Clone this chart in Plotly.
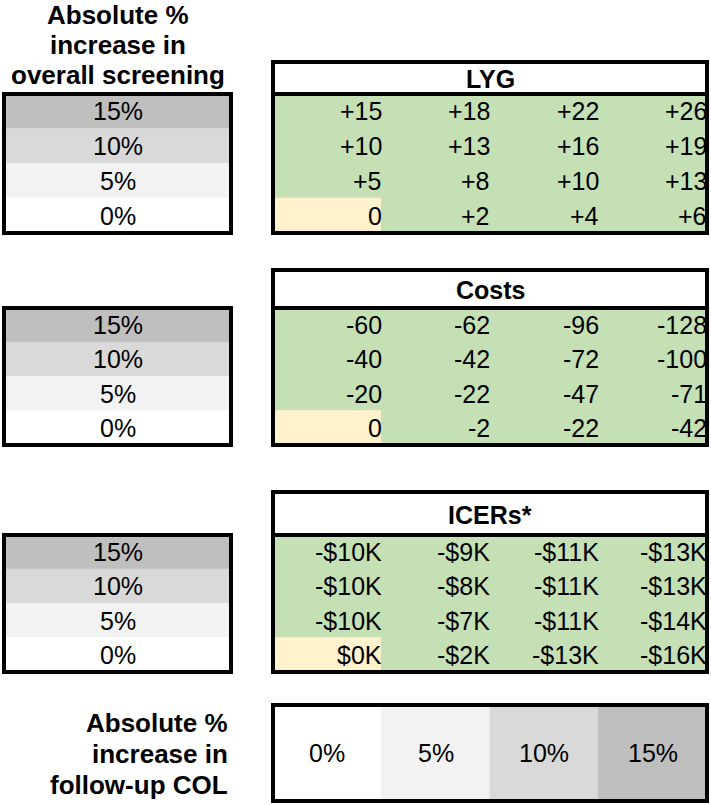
import plotly.graph_objects as go

# ---------------- data ----------------
screen_levels = ["15%", "10%", "5%", "0%"]          # rows (overall screening increase)
col_levels = ["0%", "5%", "10%", "15%"]             # columns (follow-up COL increase)
lyg = [[15, 18, 22, 26],
       [10, 13, 16, 19],
       [5, 8, 10, 13],
       [0, 2, 4, 6]]
costs = [[-60, -62, -96, -128],
         [-40, -42, -72, -100],
         [-20, -22, -47, -71],
         [0, -2, -22, -42]]
icers_k = [[-10, -9, -11, -13],
           [-10, -8, -11, -13],
           [-10, -7, -11, -14],
           [0, -2, -13, -16]]
panel_titles = ["LYG", "Costs", "ICERs*"]
left_title = ["Absolute %", "increase in", "overall screening"]
bottom_title = ["Absolute %", "increase in", "follow-up COL"]


def fmt_lyg(v):
    return "0" if v == 0 else ("+%d" % v if v > 0 else "%d" % v)


def fmt_cost(v):
    return "%d" % v


def fmt_icer(v):
    return "$%dK" % v if v >= 0 else "-$%dK" % abs(v)


panel_values = [lyg, costs, icers_k]
panel_fmt = [fmt_lyg, fmt_cost, fmt_icer]

# ---------------- style / layout ----------------
W, H = 711, 805
FONT = "Liberation Sans, Arial, sans-serif"
level_colors = {"0%": "#ffffff", "5%": "#f2f2f2", "10%": "#d9d9d9", "15%": "#bfbfbf"}
GREEN = "#c5e0b4"
TAN = "#fff2cc"
BX0, BX1 = 273, 707          # right-hand tables
LX0, LX1 = 4, 231            # left-hand label boxes
panels = [(62, 94, 233), (270, 308, 445), (492, 535, 672)]   # top, header bottom, bottom
COL_TOP, COL_BOT = 705, 801
BW = 4
VAL_SIZE = 25
TITLE_SIZE = 25
LABEL_SIZE = 26

ncol = len(col_levels)
nrow = len(screen_levels)
cw = (BX1 - BX0) / ncol

shapes = []
annotations = []


def rect(x0, y0, x1, y1, fill=None, line=False):
    if line:
        ln = dict(color="black", width=BW)
    elif fill:
        ln = dict(color=fill, width=1)
    else:
        ln = dict(width=0)
    shapes.append(dict(type="rect", xref="x", yref="y", x0=x0, y0=y0, x1=x1, y1=y1,
                       fillcolor=fill if fill else "rgba(0,0,0,0)", line=ln))


def text(x, y, s, size, bold=False, xanchor="center"):
    annotations.append(dict(x=x, y=y, xref="x", yref="y", text=("<b>%s</b>" % s) if bold else s,
                            showarrow=False, xanchor=xanchor, yanchor="middle",
                            font=dict(family=FONT, size=size, color="black")))


for p, (top, hb, bot) in enumerate(panels):
    rh = (bot - hb) / nrow
    # header
    rect(BX0, top, BX1, hb, fill="white", line=True)
    text((BX0 + BX1) / 2, (top + hb) / 2 + 1, panel_titles[p], TITLE_SIZE, bold=True)
    # cells
    for r in range(nrow):
        for c in range(ncol):
            base = screen_levels[r] == "0%" and col_levels[c] == "0%"
            rect(BX0 + c * cw, hb + r * rh, BX0 + (c + 1) * cw, hb + (r + 1) * rh,
                 fill=TAN if base else GREEN)
            annotations.append(dict(x=BX0 + (c + 1) * cw + 2, y=hb + (r + 0.5) * rh, xref="x", yref="y",
                                    text=panel_fmt[p](panel_values[p][r][c]), showarrow=False,
                                    xanchor="right", yanchor="middle",
                                    font=dict(family=FONT, size=VAL_SIZE, color="black")))
    rect(BX0, hb, BX1, bot, line=True)
    # left label box
    for r in range(nrow):
        rect(LX0, hb + r * rh, LX1, hb + (r + 1) * rh, fill=level_colors[screen_levels[r]])
        text((LX0 + LX1) / 2, hb + (r + 0.5) * rh, screen_levels[r], VAL_SIZE)
    rect(LX0, hb, LX1, bot, line=True)

# bottom legend of follow-up COL levels
for c in range(ncol):
    rect(BX0 + c * cw, COL_TOP, BX0 + (c + 1) * cw, COL_BOT, fill=level_colors[col_levels[c]])
    text(BX0 + (c + 0.5) * cw, (COL_TOP + COL_BOT) / 2, col_levels[c], VAL_SIZE)
rect(BX0, COL_TOP, BX1, COL_BOT, line=True)

# titles
for i, s in enumerate(left_title):
    text((LX0 + LX1) / 2, 15 + i * 30, s, LABEL_SIZE, bold=True)
for i, s in enumerate(bottom_title):
    text(230, 723 + i * 31, s, LABEL_SIZE, bold=True, xanchor="right")

fig = go.Figure()
fig.add_trace(go.Scatter(x=[0, W], y=[0, H], mode="markers", marker=dict(opacity=0),
                         hoverinfo="skip", showlegend=False))
fig.update_layout(
    width=W, height=H, margin=dict(l=0, r=0, t=0, b=0),
    paper_bgcolor="white", plot_bgcolor="white",
    xaxis=dict(range=[0, W], visible=False, fixedrange=True),
    yaxis=dict(range=[H, 0], visible=False, fixedrange=True),
    shapes=shapes, annotations=annotations, showlegend=False,
)
fig.write_html("out.html", config={"displayModeBar": False},
               post_script="document.body.style.margin='0px';document.body.style.overflow='hidden';")
